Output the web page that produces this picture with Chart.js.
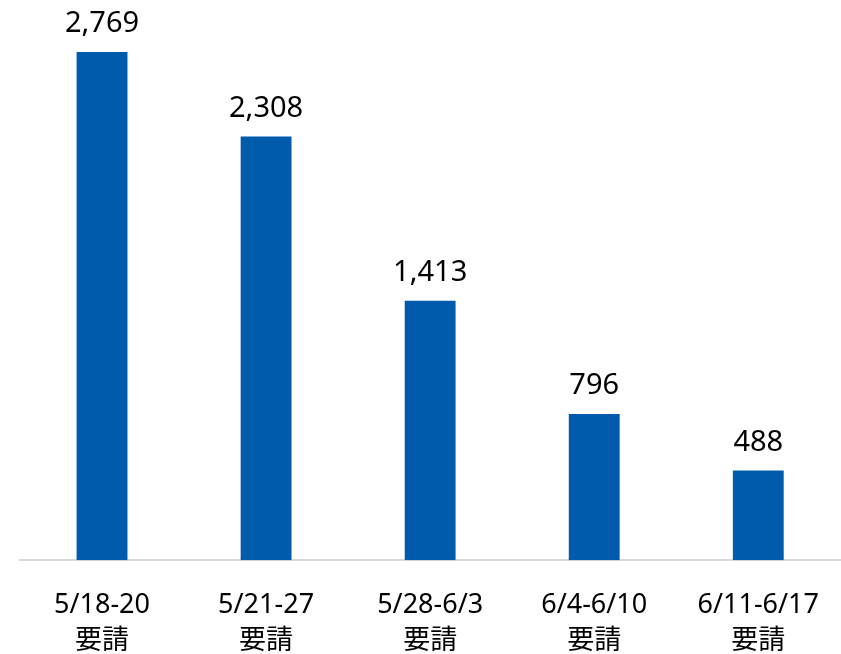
<!DOCTYPE html>
<html>
<head>
<meta charset="utf-8">
<script src="https://cdn.jsdelivr.net/npm/chart.js@4"></script>
<style>
html,body{margin:0;padding:0;background:#fff;overflow:hidden;width:841px;height:654px;}
#wrap{width:846px;height:654px;}
</style>
</head>
<body>
<div id="wrap"><canvas id="c" width="846" height="654"></canvas></div>
<script>
const categories = [["5/18-20","要請"],["5/21-27","要請"],["5/28-6/3","要請"],["6/4-6/10","要請"],["6/11-6/17","要請"]];
const values = [2769, 2308, 1413, 796, 488];

const FONT = "'Noto Sans', 'Noto Sans CJK JP', sans-serif";

const valueLabels = {
  id: 'valueLabels',
  afterDatasetsDraw(chart) {
    const ctx = chart.ctx;
    const meta = chart.getDatasetMeta(0);
    ctx.save();
    ctx.font = "29px " + FONT;
    ctx.fillStyle = "#000";
    ctx.textAlign = "center";
    ctx.textBaseline = "alphabetic";
    meta.data.forEach((bar, i) => {
      ctx.fillText(values[i].toLocaleString('en-US'), bar.x, bar.y - 20);
    });
    ctx.restore();
  }
};

new Chart(document.getElementById('c'), {
  type: 'bar',
  data: {
    labels: categories,
    datasets: [{
      data: values,
      backgroundColor: '#005bac',
      borderWidth: 0,
      barPercentage: 0.31,
      categoryPercentage: 1.0
    }]
  },
  options: {
    responsive: false,
    animation: false,
    devicePixelRatio: 1,
    layout: { padding: { top: 52, left: 20, right: 0, bottom: -32 } },
    plugins: { legend: { display: false }, tooltip: { enabled: false } },
    scales: {
      y: { display: false, min: 0, max: 2769 },
      x: {
        grid: { display: false, drawTicks: false },
        border: { display: true, color: '#d9d9d9', width: 2 },
        ticks: {
          color: '#000',
          padding: 27,
          maxRotation: 0,
          autoSkip: false,
          font: { family: FONT, size: 27, lineHeight: 1.33 }
        }
      }
    }
  },
  plugins: [valueLabels]
});
</script>
</body>
</html>
